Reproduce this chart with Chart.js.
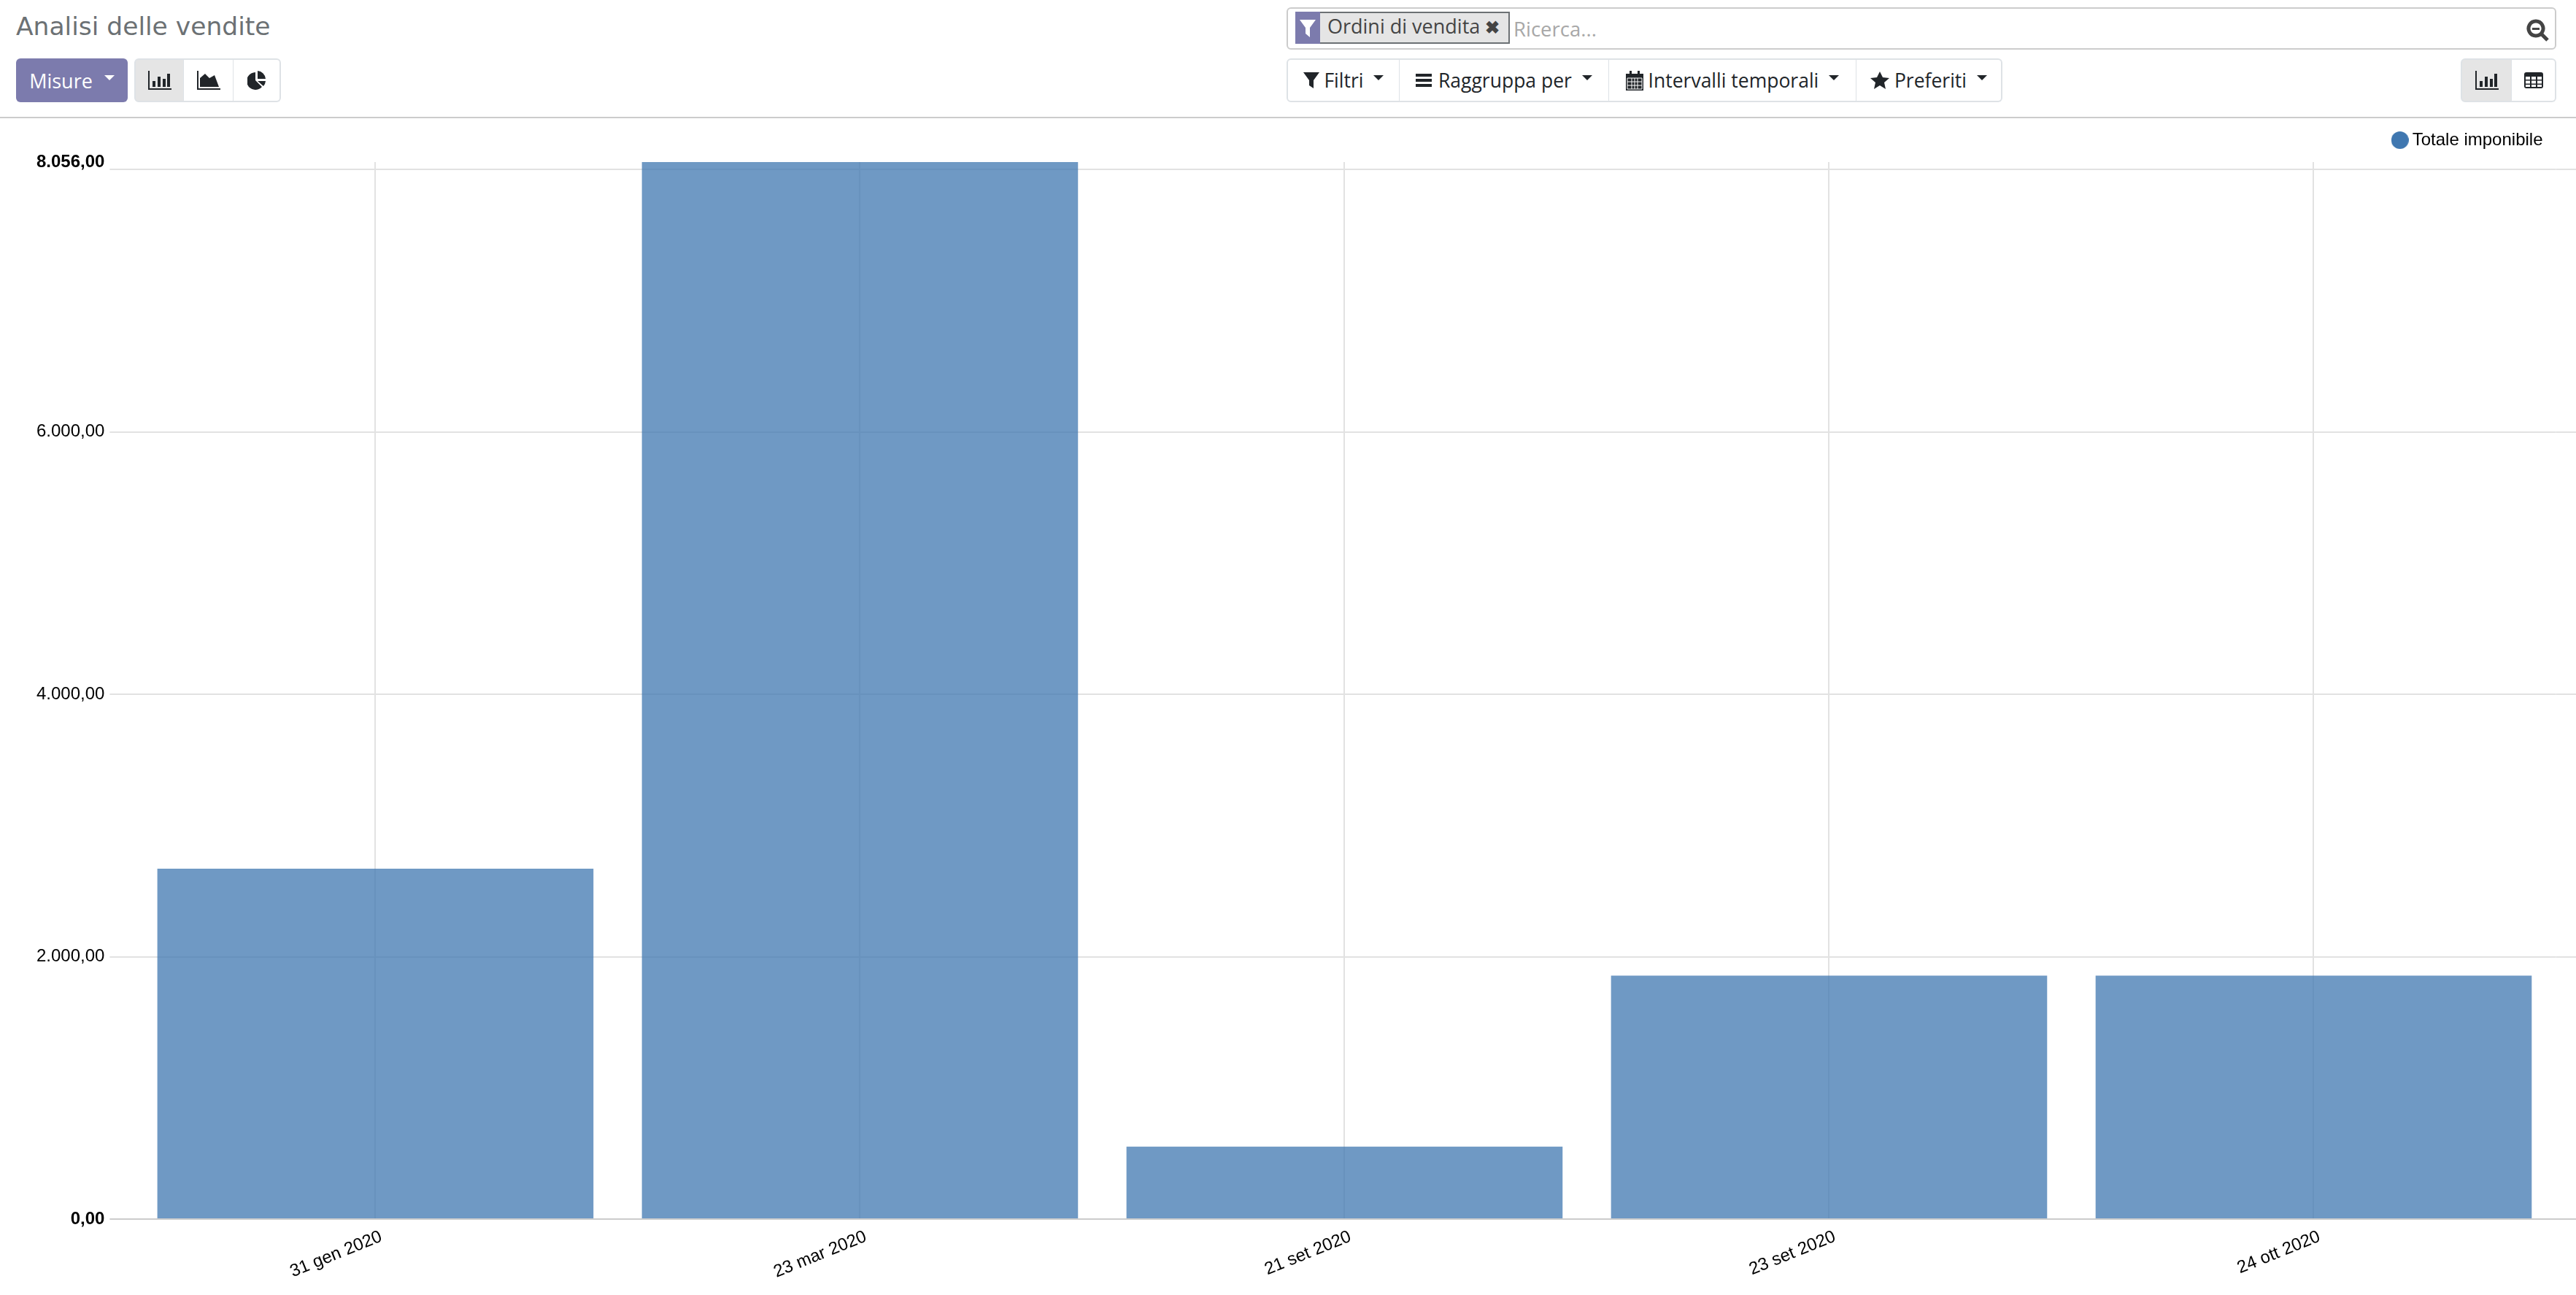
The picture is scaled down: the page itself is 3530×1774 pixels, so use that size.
<!DOCTYPE html>
<html>
<head>
<meta charset="utf-8">
<title>Analisi delle vendite</title>
<script src="https://cdn.jsdelivr.net/npm/chart.js@4/dist/chart.umd.js"></script>
<style>
html,body{margin:0;padding:0;background:#fff;width:3530px;height:1774px;overflow:hidden;font-family:"DejaVu Sans",sans-serif;}
.abs{position:absolute;box-sizing:border-box;white-space:nowrap;}
.title{left:22px;top:12px;font-size:34.5px;color:#6c7174;line-height:48px;}
.btn{display:flex;align-items:center;justify-content:center;height:60px;top:80px;border:2px solid #dee2e6;color:#212529;font-family:"Open Sans",sans-serif;font-size:26.5px;background:#fff;}
.main{left:22px;width:153px;background:#7c7bad;border:none;border-radius:6px;color:#fff;font-size:27px;}
.caret{display:inline-block;width:0;height:0;border-left:7px solid transparent;border-right:7px solid transparent;border-top:7px solid currentColor;margin-left:16px;margin-top:-8px;}
.on{background:#e5e5e5;}
svg{display:block;fill:#212529;}
.searchbox{left:1763px;top:10px;width:1740px;height:58px;border:2px solid #ccc;border-radius:6px;background:#fff;}
.chip{left:1775px;top:16px;width:294px;height:44px;background:#e5e5e5;border:2px solid #6c7174;font-family:"Open Sans",sans-serif;font-size:27px;color:#444;line-height:36px;padding-left:42px;}
.chipicon{left:1775px;top:16px;width:34px;height:44px;background:#7c7bad;}
.ph{left:2074px;top:20px;font-family:"Open Sans",sans-serif;font-size:27.5px;color:#a8a8a8;line-height:40px;}
.rule{left:0;top:160px;width:3530px;height:2px;background:#ccc;}
#wrap{position:absolute;left:0;top:162px;width:3530px;height:1612px;}
</style>
</head>
<body>
<div class="abs title">Analisi delle vendite</div>

<div class="abs btn main">Misure<span class="caret"></span></div>
<div class="abs btn on" style="left:184px;width:69px;border-radius:6px 0 0 6px;"><svg width="32" height="26" viewBox="0 0 32 26"><path d="M0 0h2v24h30v2H0zM6 14h4v8H6zM13 8h4v14h-4zM20 11h4v11h-4zM26 4h4v18h-4z"/></svg></div>
<div class="abs btn" style="left:252px;width:69px;border-left:none;"><svg width="32" height="26" viewBox="0 0 32 26"><path d="M0 0h2v24h30v2H0zM4 22V10l7-6 6 6 7-4 6 16z"/></svg></div>
<div class="abs btn" style="left:320px;width:65px;border-left:none;border-radius:0 6px 6px 0;"><svg width="26" height="26" viewBox="0 0 26 26"><path d="M11 2a12 12 0 1 0 9 20l-9-9zM14 0v11h11A12 12 0 0 0 14 0zM14 14l8 7a12 12 0 0 0 3-7z"/></svg></div>

<div class="abs searchbox"></div>
<div class="abs chip">Ordini di vendita <span style="font-weight:bold;font-size:24px">✖</span></div>
<div class="abs chipicon"><svg width="34" height="44" viewBox="0 0 34 44"><path fill="#fff" d="M6 11h22l-8 11v13l-6-5v-8z"/></svg></div>
<div class="abs ph">Ricerca...</div>
<div class="abs" style="left:3462px;top:26px;"><svg width="32" height="32" viewBox="0 0 32 32"><path fill="none" stroke="#444" stroke-width="5" d="M13 3a10 10 0 1 0 .01 0zM20 20l9 9"/><path fill="#444" d="M8 12h10v3H8z"/></svg></div>

<div class="abs btn" style="left:1763px;width:156px;border-radius:6px 0 0 6px;"><svg width="22" height="24" viewBox="0 0 22 24"><path d="M0 1h22l-8 11v11l-6-4v-7z"/></svg>&nbsp;Filtri<span class="caret" style="margin-left:14px;"></span></div>
<div class="abs btn" style="left:1918px;width:288px;border-left:none;"><svg width="24" height="22" viewBox="0 0 24 22"><path d="M0 2h22v4H0zM0 9h22v4H0zM0 16h22v4H0z"/></svg>&nbsp;Raggruppa per<span class="caret" style="margin-left:14px;"></span></div>
<div class="abs btn" style="left:2205px;width:340px;border-left:none;"><svg width="24" height="28" viewBox="0 0 24 28"><path d="M0 5h24v23H0zM5 1h3v6H5zM16 1h3v6h-3z"/><path fill="none" stroke="#fff" d="M2 11h20v15H2zM2 16h20M2 21h20M8 11v15M12 11v15M16 11v15"/></svg>&nbsp;Intervalli temporali<span class="caret" style="margin-left:14px;"></span></div>
<div class="abs btn" style="left:2544px;width:200px;border-radius:0 6px 6px 0;border-left:none;"><svg width="26" height="26" viewBox="0 0 26 26"><path d="M13 1l4 8 9 1-7 6 2 9-8-5-8 5 2-9-7-6 9-1z"/></svg>&nbsp;Preferiti<span class="caret" style="margin-left:14px;"></span></div>

<div class="abs btn on" style="left:3372px;width:71px;border-radius:6px 0 0 6px;"><svg width="32" height="26" viewBox="0 0 32 26"><path d="M0 0h2v24h30v2H0zM6 14h4v8H6zM13 8h4v14h-4zM20 11h4v11h-4zM26 4h4v18h-4z"/></svg></div>
<div class="abs btn" style="left:3442px;width:61px;border-left:none;border-radius:0 6px 6px 0;"><svg width="26" height="22" viewBox="0 0 26 22"><path d="M3 0h20a3 3 0 0 1 3 3v16a3 3 0 0 1-3 3H3a3 3 0 0 1-3-3V3a3 3 0 0 1 3-3z"/><path fill="#fff" d="M2 6h6v4H2zM10 6h6v4h-6zM18 6h6v4h-6zM2 11.500h6v4H2zM10 11.500h6v4h-6zM18 11.500h6v4h-6zM2 17h6v3H2zM10 17h6v3h-6zM18 17h6v3h-6z"/></svg></div>

<div class="abs rule"></div>
<div id="wrap"><canvas id="salesChart" width="3530" height="1612"></canvas></div>

<script>
const categories = ["31 gen 2020","23 mar 2020","21 set 2020","23 set 2020","24 ott 2020"];
const totals = [2670,8056,552,1855,1855];
const tickValues = [0,2000,4000,6000,8000,8056];
const tickLabels = ["0,00","2.000,00","4.000,00","6.000,00","","8.056,00"];
const seriesName = "Totale imponibile";
const axisMax = 8056;

// legend dot, drawn apart so it can sit closer to the text than chart.js would put it
let legendDot = document.createElement("canvas");
legendDot.width = 24;
legendDot.height = 24;
let dotCtx = legendDot.getContext("2d");
dotCtx.fillStyle = "#3f77b0";
dotCtx.arc(12,12,12,0,Math.PI*2);
dotCtx.fill();

// horizontal lines run on past the last category up to the page edge
const lineExtender = {
	id: "lineExtender",
	beforeDatasetsDraw(chart){
		let yScale = chart.scales.y;
		let c = chart.ctx;
		c.save();
		c.lineWidth = 2;
		for(let i=0;i<tickValues.length;i++){
			if(tickValues[i]==axisMax) continue;
			let y = Math.round(yScale.getPixelForValue(tickValues[i]));
			c.strokeStyle = tickValues[i]==0 ? "#ccc" : "#e2e2e2";
			c.beginPath();
			c.moveTo(chart.chartArea.right,y);
			c.lineTo(chart.width,y);
			c.stroke();
		}
		c.restore();
	}
};

let ctx = document.getElementById("salesChart").getContext("2d");
let salesGraph = new Chart(ctx, {
	type: "bar",
	plugins: [lineExtender],
	data: {
		labels: categories,
		datasets: [{
			label: seriesName,
			data: totals,
			backgroundColor: "rgba(63,119,176,0.75)",
			borderWidth: 0,
			categoryPercentage: 0.9,
			barPercentage: 1
		}]
	},
	options: {
		responsive: false,
		maintainAspectRatio: false,
		animation: false,
		layout: {padding: {top: 0, right: 27.5, bottom: 0, left: 0}},
		plugins: {
			tooltip: {enabled: false},
			legend: {
				position: "top",
				align: "end",
				labels: {
					usePointStyle: true,
					boxWidth: 10,
					boxHeight: 17,
					padding: 18,
					color: "#000",
					font: {family: "Liberation Sans", size: 24},
					generateLabels: function(chart){
						return [{text: seriesName, fillStyle: "#3f77b0", strokeStyle: "#3f77b0", lineWidth: 0, pointStyle: legendDot, datasetIndex: 0, fontColor: "#000"}];
					}
				}
			}
		},
		scales: {
			x: {
				afterFit: function(axis){ axis.height = 104; },
				grid: {offset: false, color: "#e2e2e2", lineWidth: 2, drawTicks: false},
				border: {color: "#ccc", width: 2},
				ticks: {
					color: "#000",
					font: {family: "Liberation Sans", size: 24},
					maxRotation: 22,
					minRotation: 22,
					labelOffset: 8,
					padding: 10
				}
			},
			y: {
				min: 0,
				max: axisMax,
				afterBuildTicks: function(axis){
					axis.ticks = tickValues.map(function(v){ return {value: v}; });
				},
				afterFit: function(axis){ axis.width = 182.4; },
				grid: {
					color: function(c){ return c.tick && c.tick.value==0 ? "#ccc" : "#e2e2e2"; },
					lineWidth: function(c){ return c.tick && c.tick.value==axisMax ? 0 : 2; },
					tickLength: 32
				},
				border: {display: false},
				ticks: {
					color: "#000",
					padding: 7,
					autoSkip: false,
					font: function(c){
						let edge = c.index == 0 || c.index == tickValues.length-1;
						return {family: "Liberation Sans", size: 24, weight: edge ? "bold" : "normal"};
					},
					callback: function(value, index){ return tickLabels[index]; }
				}
			}
		}
	}
});
// legend strip is a bit taller than its text + padding
const legendFit = salesGraph.legend.fit;
salesGraph.legend.fit = function(){
	legendFit.call(this);
	this.height = 60;
};
salesGraph.update();
</script>
</body>
</html>
